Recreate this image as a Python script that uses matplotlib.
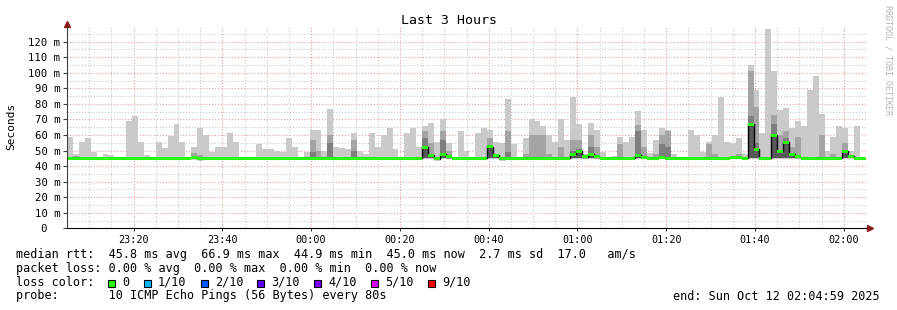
#!/usr/bin/env python3
"""
SmokePing style latency graph - last 3 hours, 80s step, 10 pings per step
"""
import matplotlib
matplotlib.use("Agg")
import matplotlib.pyplot as plt
from matplotlib.patches import Rectangle
from matplotlib.ticker import MultipleLocator, FuncFormatter
import numpy as np

# ── Config ─────────────────────────────────────────────────────────────────────
W, H = 897, 310
MONO = "DejaVu Sans Mono"
STEP = 80 / 60          # minutes per sample
T_START = -55.0         # minutes relative to 00:00 (= 23:05)
T_END = 125.0           # 02:05
Y_TOP = 129.5

SMOKE = ["#cacaca", "#a4a4a4", "#7e7e7e", "#585858", "#323232"]
AXIS_RED = "#8b1a1a"
MGRID = "#eaa0a0"
GRID = "#cccccc"

# ── Data (ms) ──────────────────────────────────────────────────────────────────
RTT_MIN = 44.6  # fastest ping, roughly constant over the window

# slowest of the 10 pings per step
rtt_max = [
    58.4, 47.5, 55.4, 57.8, 48.8, 45.0, 47.5, 47.0, 45.0, 45.0, 68.7, 71.9, 55.4, 47.0, 45.0,
    55.7, 51.9, 59.6, 66.8, 55.4, 45.0, 52.5, 64.2, 60.3, 48.8, 52.6, 52.6, 61.0, 55.8, 45.0,
    45.0, 45.0, 53.9, 51.3, 50.7, 49.4, 48.8, 57.8, 52.6, 45.0, 48.8, 63.5, 63.0, 49.8, 77.0,
    52.6, 51.9, 50.7, 61.0, 49.4, 47.5, 61.6, 52.6, 59.7, 64.8, 50.7, 45.0, 61.0, 64.8, 52.6,
    66.1, 68.0, 55.2, 70.6, 54.6, 45.0, 62.3, 50.0, 45.0, 61.0, 64.8, 63.5, 55.2, 54.6, 83.4,
    53.9, 45.0, 57.8, 70.6, 68.7, 66.1, 60.3, 55.8, 70.6, 56.5, 84.7, 66.8, 47.5, 67.4, 63.0,
    48.8, 45.0, 46.3, 58.4, 55.2, 58.4, 75.7, 63.5, 48.2, 57.1, 64.2, 63.5, 48.0, 45.0, 45.0,
    63.0, 60.3, 48.8, 55.8, 59.7, 84.7, 55.8, 54.6, 57.8, 48.0, 105.0, 89.2, 61.0, 128.4, 101.4,
    76.3, 77.6, 64.8, 68.7, 66.1, 89.2, 98.2, 73.2, 49.4, 58.4, 65.5, 64.8, 50.0, 65.5, 45.0,
]

# 9th of 10 pings
rtt_p9 = [
    45.8, 46.5, 45.8, 45.8, 45.8, 45.8, 45.8, 45.8, 45.8, 45.8, 45.8, 45.8, 45.8, 45.8, 45.8,
    45.8, 45.8, 45.8, 45.8, 45.8, 45.8, 48.5, 47.0, 45.8, 45.8, 45.8, 45.8, 45.8, 45.8, 45.8,
    45.8, 45.8, 45.8, 45.8, 45.8, 45.8, 45.8, 45.8, 45.8, 45.8, 45.8, 57.0, 49.4, 45.8, 59.8,
    45.8, 45.8, 45.8, 57.0, 45.8, 45.8, 45.8, 45.8, 45.8, 45.8, 45.8, 45.8, 45.8, 45.8, 45.8,
    62.4, 55.0, 45.8, 62.4, 50.0, 45.8, 45.8, 45.8, 45.8, 45.8, 45.8, 57.9, 48.0, 45.8, 62.3,
    45.8, 45.8, 48.0, 59.7, 59.7, 59.7, 47.5, 45.8, 52.0, 45.8, 57.0, 57.0, 45.8, 60.3, 52.0,
    45.8, 45.8, 45.8, 54.0, 45.8, 45.8, 66.2, 52.0, 45.8, 48.0, 59.7, 62.4, 45.8, 45.8, 45.8,
    45.8, 45.8, 45.8, 54.0, 48.0, 45.8, 45.8, 45.8, 48.0, 45.8, 101.0, 78.0, 45.8, 45.8, 73.0,
    60.0, 62.4, 52.0, 59.0, 45.8, 45.8, 45.8, 59.7, 45.8, 48.0, 45.8, 55.0, 45.8, 45.8, 45.8,
]

# 8th of 10 pings
rtt_p8 = [
    45.3, 45.3, 45.3, 45.3, 45.3, 45.3, 45.3, 45.3, 45.3, 45.3, 45.3, 45.3, 45.3, 45.3, 45.3,
    45.3, 45.3, 45.3, 45.3, 45.3, 45.3, 45.3, 45.3, 45.3, 45.3, 45.3, 45.3, 45.3, 45.3, 45.3,
    45.3, 45.3, 45.3, 45.3, 45.3, 45.3, 45.3, 45.3, 45.3, 45.3, 45.3, 48.8, 45.3, 45.3, 54.7,
    45.3, 45.3, 45.3, 50.0, 45.3, 45.3, 45.3, 45.3, 45.3, 45.3, 45.3, 45.3, 45.3, 45.3, 45.3,
    57.9, 45.3, 45.3, 57.1, 45.3, 45.3, 45.3, 45.3, 45.3, 45.3, 45.3, 52.0, 45.3, 45.3, 48.8,
    45.3, 45.3, 45.3, 45.3, 45.3, 45.3, 45.3, 45.3, 45.3, 45.3, 50.0, 51.0, 45.3, 52.0, 45.3,
    45.3, 45.3, 45.3, 45.3, 45.3, 45.3, 62.4, 45.3, 45.3, 45.3, 54.0, 52.0, 45.3, 45.3, 45.3,
    45.3, 45.3, 45.3, 45.3, 45.3, 45.3, 45.3, 45.3, 45.3, 45.3, 72.0, 55.0, 45.3, 45.3, 66.8,
    45.3, 58.0, 45.3, 45.3, 45.3, 45.3, 45.3, 45.3, 45.3, 45.3, 45.3, 50.0, 45.3, 45.3, 45.3,
]

# median rtt
rtt_median = [
    45.0, 45.0, 45.0, 45.0, 45.0, 45.0, 45.0, 45.0, 45.0, 45.0, 45.0, 45.0, 45.0, 45.0, 45.0,
    45.0, 45.0, 45.0, 45.0, 45.0, 45.0, 45.5, 44.8, 45.0, 45.0, 45.0, 45.0, 45.0, 45.0, 45.0,
    45.0, 45.0, 45.0, 45.0, 45.0, 45.0, 45.0, 45.0, 45.0, 45.0, 45.0, 45.0, 45.0, 45.0, 45.0,
    45.0, 45.0, 45.0, 45.0, 45.0, 45.0, 45.0, 45.0, 45.0, 45.0, 45.0, 45.0, 45.0, 45.0, 45.0,
    52.0, 47.0, 44.7, 47.5, 46.0, 45.0, 45.0, 45.0, 45.0, 45.0, 45.0, 52.6, 47.0, 44.7, 44.9,
    44.9, 45.0, 45.0, 45.0, 45.0, 45.0, 45.0, 45.0, 45.0, 45.0, 47.5, 49.4, 46.0, 47.5, 46.0,
    45.0, 45.0, 45.0, 45.0, 45.0, 45.0, 47.0, 45.8, 45.0, 45.0, 45.8, 45.0, 45.0, 45.0, 45.0,
    45.0, 45.0, 45.0, 45.0, 45.0, 45.0, 45.0, 45.8, 45.8, 45.0, 66.8, 50.7, 45.0, 45.0, 59.7,
    49.4, 55.2, 47.5, 46.0, 45.0, 45.0, 45.0, 45.0, 45.0, 45.0, 45.0, 49.4, 46.3, 45.0, 45.0,
]

loss_labels = ["0", "1/10", "2/10", "3/10", "4/10", "5/10", "9/10"]
loss_colors = ["#26ff00", "#00b8ff", "#0059ff", "#5e00ff", "#7e00ff", "#dd00ff", "#ff0000"]

time_ticks = [-40, -20, 0, 20, 40, 60, 80, 100, 120]
time_labels = ["23:20", "23:40", "00:00", "00:20", "00:40", "01:00", "01:20", "01:40", "02:00"]
rtt_ticks = [0, 10, 20, 30, 40, 50, 60, 70, 80, 90, 100, 110, 120]

stats_line = "median rtt:  45.8 ms avg  66.9 ms max  44.9 ms min  45.0 ms now  2.7 ms sd  17.0   am/s"
loss_line = "packet loss: 0.00 % avg  0.00 % max  0.00 % min  0.00 % now"
probe_line = "probe:       10 ICMP Echo Pings (56 Bytes) every 80s"
end_line = "end: Sun Oct 12 02:04:59 2025"


def fx(px):
    return px / W


def fy(py):
    return 1 - py / H


# ── Figure ─────────────────────────────────────────────────────────────────────
PX_PER_MS = 1.555
ax_top = 228.3 - Y_TOP * PX_PER_MS
fig = plt.figure(figsize=(W / 100, H / 100), dpi=100, facecolor="white")
ax = fig.add_axes([fx(67), fy(228.3), (866 - 67) / W, (228.3 - ax_top) / H])
ax.set_facecolor("white")

n = len(rtt_max)
t = T_START + STEP * np.arange(n)
mx = np.array(rtt_max)
p9 = np.array(rtt_p9)
p8 = np.array(rtt_p8)
med = np.array(rtt_median)

# smoke layers, outermost (lightest) first
ax.bar(t, mx - RTT_MIN, bottom=RTT_MIN, width=STEP, align="edge", color=SMOKE[0], lw=0, zorder=2)
ax.bar(t, p9 - 45.0, bottom=45.0, width=STEP, align="edge", color=SMOKE[1], lw=0, zorder=3)
ax.bar(t, p8 - 45.2, bottom=45.2, width=STEP, align="edge", color=SMOKE[2], lw=0, zorder=4)
ax.bar(t, np.clip(med - 45.4, 0, None), bottom=45.4, width=STEP, align="edge",
       color=SMOKE[3], lw=0, zorder=5)

# median: black step line plus loss-coloured band
edges = np.append(t, t[-1] + STEP)
ax.step(edges, np.append(med, med[-1]), where="post", color="black", lw=1.0, zorder=6)
ax.bar(t, 2.0, bottom=med - 1.0, width=STEP, align="edge", color=loss_colors[0], lw=0, zorder=7)

# ── Axes / grid ────────────────────────────────────────────────────────────────
ax.set_xlim(T_START, T_END)
ax.set_ylim(0, Y_TOP)
ax.set_axisbelow(True)
ax.xaxis.set_minor_locator(MultipleLocator(5))
ax.yaxis.set_minor_locator(MultipleLocator(5))
ax.set_xticks(time_ticks)
ax.set_xticklabels(time_labels)
ax.set_yticks(rtt_ticks)
ax.yaxis.set_major_formatter(FuncFormatter(lambda v, p: "0  " if v == 0 else f"{v:.0f} m"))
ax.grid(which="minor", color=GRID, lw=0.8, ls=(0, (1, 1.6)), zorder=0)
ax.grid(which="major", color=MGRID, lw=0.8, ls=(0, (1, 1.6)), zorder=1)

for s in ["top", "right"]:
    ax.spines[s].set_visible(False)
ax.spines["left"].set_color("#404040")
ax.spines["bottom"].set_color("black")
ax.spines["left"].set_zorder(8)
ax.spines["bottom"].set_zorder(8)

ax.tick_params(axis="y", which="major", length=3, width=0.8, color="#404040", pad=2,
               labelsize=7.7, labelfontfamily=MONO)
ax.tick_params(axis="x", which="major", length=2, width=0.8, color="#404040", pad=3,
               labelsize=7.3, labelfontfamily=MONO)
ax.tick_params(which="minor", length=0)

# axis arrows
ax.plot([0, 0], [1.0, 1.012], transform=ax.transAxes, color="#404040", lw=0.8, clip_on=False)
ax.plot([1.0, 1.004], [0, 0], transform=ax.transAxes, color="black", lw=0.8, clip_on=False)
ax.plot([0], [1.016], marker="^", ms=4.5, color=AXIS_RED, transform=ax.transAxes, clip_on=False)
ax.plot([1.005], [0], marker=">", ms=4.5, color=AXIS_RED, transform=ax.transAxes, clip_on=False)

# ── Texts ──────────────────────────────────────────────────────────────────────
fig.text(fx(449), fy(20), "Last 3 Hours", ha="center", va="center", fontsize=9.5, family=MONO)
fig.text(fx(11), fy(126), "Seconds", ha="center", va="center", rotation=90, fontsize=8,
         family=MONO)
fig.text(fx(888), fy(5), "RRDTOOL / TOBI OETIKER", ha="center", va="top", rotation=270,
         fontsize=6, family=MONO, color="#b4b4b4")

CW = 7.1   # px per character at 8.5pt mono
LX = 16
fig.text(fx(LX), fy(258.3), stats_line, fontsize=8.5, family=MONO, va="baseline")
fig.text(fx(LX), fy(272), loss_line, fontsize=8.5, family=MONO, va="baseline")
fig.text(fx(LX), fy(285.7), "loss color:", fontsize=8.5, family=MONO, va="baseline")
col = 13
for lab, c in zip(loss_labels, loss_colors):
    bx = LX + col * CW
    fig.add_artist(Rectangle((fx(bx), fy(286.7)), 7 / W, 7 / H, facecolor=c,
                             edgecolor="black", lw=0.8, transform=fig.transFigure))
    fig.text(fx(LX + (col + 2) * CW), fy(285.7), lab, fontsize=8.5, family=MONO, va="baseline")
    col += 2 + len(lab) + 2
fig.text(fx(LX), fy(299.5), probe_line, fontsize=8.5, family=MONO, va="baseline")
fig.text(fx(880), fy(299.5), end_line, fontsize=8.5, family=MONO, va="baseline", ha="right")

plt.savefig("out.png", dpi=100, facecolor="white")
plt.close()
